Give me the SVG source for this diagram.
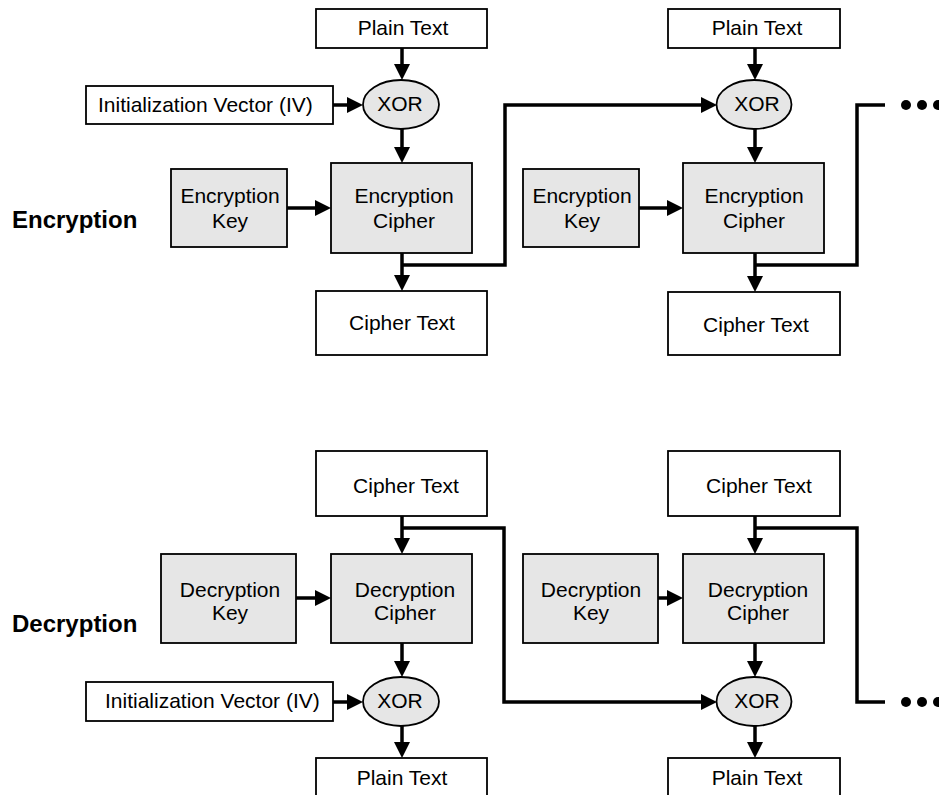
<svg xmlns="http://www.w3.org/2000/svg" width="939" height="795" viewBox="0 0 939 795">
<defs>
<style>
.box{fill:#ffffff;stroke:#000;stroke-width:1.8}
.gbox{fill:#e6e6e6;stroke:#000;stroke-width:1.8}
.xor{fill:#e6e6e6;stroke:#000;stroke-width:1.8}
.t{font-family:"Liberation Sans",Arial,sans-serif;font-size:21px;fill:#000;text-anchor:middle}
.ts{font-family:"Liberation Sans",Arial,sans-serif;font-size:21px;fill:#000}
.lbl{font-family:"Liberation Sans",Arial,sans-serif;font-size:24px;font-weight:bold;fill:#000}
.c{fill:none;stroke:#000;stroke-width:3.5}
.a{fill:none;stroke:#000;stroke-width:3.5;marker-end:url(#ah)}
.dot{fill:#000}
</style>
<marker id="ah" markerUnits="userSpaceOnUse" markerWidth="17" markerHeight="17" refX="11" refY="8" orient="auto">
<path d="M0,0 L16,8 L0,16 Z" fill="#000"/>
</marker>
</defs>

<g id="connectors">
<!-- encryption block 1 -->
<path class="a" d="M402,48 V75"/>
<path class="a" d="M333,105 H358"/>
<path class="a" d="M402,129 V158"/>
<path class="a" d="M287,208 H326"/>
<path class="a" d="M402,253 V286"/>
<path class="a" d="M402,265 H505 V105 H712"/>
<!-- encryption block 2 -->
<path class="a" d="M755,48 V75"/>
<path class="a" d="M755,129 V158"/>
<path class="a" d="M639,208 H678"/>
<path class="a" d="M755,253 V287"/>
<path class="c" d="M755,265 H857 V105 H885"/>
<!-- decryption block 1 -->
<path class="a" d="M402,516 V549"/>
<path class="a" d="M402,528 H504 V702 H712"/>
<path class="a" d="M296,598 H326"/>
<path class="a" d="M402,643 V672"/>
<path class="a" d="M333,702 H358"/>
<path class="a" d="M402,726 V753"/>
<!-- decryption block 2 -->
<path class="a" d="M755,516 V549"/>
<path class="c" d="M755,528 H857 V702 H885"/>
<path class="a" d="M658,598 H678"/>
<path class="a" d="M755,643 V672"/>
<path class="a" d="M755,726 V753"/>
<!-- continuation dots -->
<circle class="dot" cx="906" cy="105" r="5"/>
<circle class="dot" cx="922" cy="105" r="5"/>
<circle class="dot" cx="938" cy="105" r="5"/>
<circle class="dot" cx="906" cy="702" r="5"/>
<circle class="dot" cx="922" cy="702" r="5"/>
<circle class="dot" cx="938" cy="702" r="5"/>
</g>

<text class="lbl" x="12" y="228">Encryption</text>
<text class="lbl" x="12" y="632">Decryption</text>

<g id="enc-plain-1"><rect class="box" x="316" y="9" width="171" height="39"/><text class="t" x="403" y="35">Plain Text</text></g>
<g id="enc-xor-1"><ellipse class="xor" cx="401" cy="104.5" rx="38" ry="24.5"/><text class="t" x="400" y="111">XOR</text></g>
<g id="enc-iv"><rect class="box" x="86" y="86" width="247" height="38"/><text class="ts" x="98" y="112">Initialization Vector (IV)</text></g>
<g id="enc-key-1"><rect class="gbox" x="171" y="169" width="116" height="78"/><text class="t" x="230" y="203">Encryption</text><text class="t" x="230" y="228">Key</text></g>
<g id="enc-cipher-1"><rect class="gbox" x="331" y="163" width="141" height="90"/><text class="t" x="404" y="203">Encryption</text><text class="t" x="404" y="228">Cipher</text></g>
<g id="enc-ct-1"><rect class="box" x="316" y="291" width="171" height="64"/><text class="t" x="402" y="330">Cipher Text</text></g>

<g id="enc-plain-2"><rect class="box" x="668" y="9" width="172" height="39"/><text class="t" x="757" y="35">Plain Text</text></g>
<g id="enc-xor-2"><ellipse class="xor" cx="754" cy="104.5" rx="37.5" ry="24.5"/><text class="t" x="757" y="111">XOR</text></g>
<g id="enc-key-2"><rect class="gbox" x="523" y="169" width="116" height="78"/><text class="t" x="582" y="203">Encryption</text><text class="t" x="582" y="228">Key</text></g>
<g id="enc-cipher-2"><rect class="gbox" x="683" y="163" width="141" height="90"/><text class="t" x="754" y="203">Encryption</text><text class="t" x="754" y="228">Cipher</text></g>
<g id="enc-ct-2"><rect class="box" x="668" y="292" width="172" height="63"/><text class="t" x="756" y="332">Cipher Text</text></g>

<g id="dec-ct-1"><rect class="box" x="316" y="451" width="171" height="65"/><text class="t" x="406" y="493">Cipher Text</text></g>
<g id="dec-key-1"><rect class="gbox" x="161" y="554" width="135" height="89"/><text class="t" x="230" y="597">Decryption</text><text class="t" x="230" y="620">Key</text></g>
<g id="dec-cipher-1"><rect class="gbox" x="331" y="554" width="141" height="89"/><text class="t" x="405" y="597">Decryption</text><text class="t" x="405" y="620">Cipher</text></g>
<g id="dec-iv"><rect class="box" x="86" y="682" width="247" height="39"/><text class="ts" x="105" y="708">Initialization Vector (IV)</text></g>
<g id="dec-xor-1"><ellipse class="xor" cx="401" cy="701.5" rx="38" ry="24.5"/><text class="t" x="400" y="708">XOR</text></g>
<g id="dec-plain-1"><rect class="box" x="316" y="758" width="171" height="50"/><text class="t" x="402" y="785">Plain Text</text></g>

<g id="dec-ct-2"><rect class="box" x="668" y="451" width="172" height="65"/><text class="t" x="759" y="493">Cipher Text</text></g>
<g id="dec-key-2"><rect class="gbox" x="523" y="554" width="135" height="89"/><text class="t" x="591" y="597">Decryption</text><text class="t" x="591" y="620">Key</text></g>
<g id="dec-cipher-2"><rect class="gbox" x="683" y="554" width="141" height="89"/><text class="t" x="758" y="597">Decryption</text><text class="t" x="758" y="620">Cipher</text></g>
<g id="dec-xor-2"><ellipse class="xor" cx="754" cy="701.5" rx="37.5" ry="24.5"/><text class="t" x="757" y="708">XOR</text></g>
<g id="dec-plain-2"><rect class="box" x="668" y="758" width="172" height="50"/><text class="t" x="757" y="785">Plain Text</text></g>
</svg>
